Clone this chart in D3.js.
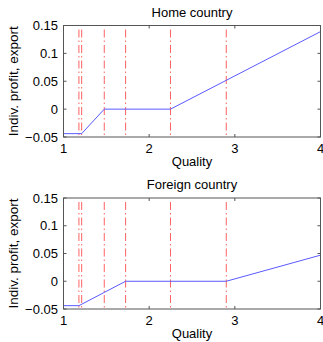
<!DOCTYPE html>
<html>
<head>
<meta charset="utf-8">
<script src="https://cdn.jsdelivr.net/npm/d3@7"></script>
<style>
  body { margin: 0; background: #fff; }
  text { font-family: "Liberation Sans", Arial, sans-serif; fill: #000; }
</style>
</head>
<body>
<div id="chart"></div>
<script>
// thresholds (red dash-dot lines), same in both panels
var cutoffs = [1.18, 1.212, 1.476, 1.725, 2.249, 2.9];

// home country profit curve
var homeX = [1, 1.212, 1.476, 2.249, 4];
var homeY = [-0.044, -0.044, 0, 0, 0.139];

// foreign country profit curve
var foreignX = [1, 1.18, 1.725, 2.9, 4];
var foreignY = [-0.044, -0.044, 0, 0, 0.047];

var xTicks = [1, 2, 3, 4];
var yTicks = [-0.05, 0, 0.05, 0.1, 0.15];
var titles = ["Home country", "Foreign country"];

var width = 323, height = 342;
var svg = d3.select("#chart").append("svg").attr("width", width).attr("height", height);

var fmt = function(d) {
  var s = d === 0 ? "0" : String(d);
  return s.replace("-", "\u2212");
};

function panel(top, bottom, title, xs, ys) {
  var x = d3.scaleLinear().domain([1, 4]).range([63.5, 320.5]);
  var y = d3.scaleLinear().domain([-0.05, 0.15]).range([bottom, top]);
  var g = svg.append("g");

  // red vertical lines
  g.selectAll("line.cut").data(cutoffs).enter().append("line")
    .attr("class", "cut")
    .attr("x1", function(d) { return x(d); })
    .attr("x2", function(d) { return x(d); })
    .attr("y1", y(0.15) + 4)
    .attr("y2", y(-0.05))
    .attr("stroke", "#ff6262")
    .attr("stroke-width", 1)
    .attr("stroke-dasharray", "8,3,1.5,3");

  // profit line
  var line = d3.line()
    .x(function(d) { return x(d[0]); })
    .y(function(d) { return y(d[1]); });
  g.append("path")
    .datum(d3.zip(xs, ys))
    .attr("d", line)
    .attr("fill", "none")
    .attr("stroke", "#5a5aff")
    .attr("stroke-width", 1);

  // axes box
  g.append("rect")
    .attr("x", x(1)).attr("y", y(0.15))
    .attr("width", x(4) - x(1)).attr("height", y(-0.05) - y(0.15))
    .attr("fill", "none").attr("stroke", "#555").attr("stroke-width", 1);

  // ticks inside
  var tl = 3;
  xTicks.forEach(function(t) {
    g.append("line").attr("x1", x(t)).attr("x2", x(t)).attr("y1", y(-0.05)).attr("y2", y(-0.05) - tl).attr("stroke", "#555");
    g.append("line").attr("x1", x(t)).attr("x2", x(t)).attr("y1", y(0.15)).attr("y2", y(0.15) + tl).attr("stroke", "#555");
    g.append("text").attr("x", x(t)).attr("y", y(-0.05) + 16)
      .attr("text-anchor", "middle").attr("font-size", "13px").text(t);
  });
  yTicks.forEach(function(t) {
    g.append("line").attr("x1", x(1)).attr("x2", x(1) + tl).attr("y1", y(t)).attr("y2", y(t)).attr("stroke", "#555");
    g.append("line").attr("x1", x(4)).attr("x2", x(4) - tl).attr("y1", y(t)).attr("y2", y(t)).attr("stroke", "#555");
    g.append("text").attr("x", 58).attr("y", y(t)).attr("dy", "0.35em")
      .attr("text-anchor", "end").attr("font-size", "13px").text(fmt(t));
  });

  // labels
  g.append("text").attr("x", (x(1) + x(4)) / 2).attr("y", top - 9)
    .attr("text-anchor", "middle").attr("font-size", "13px").text(title);
  g.append("text").attr("x", (x(1) + x(4)) / 2).attr("y", bottom + 29)
    .attr("text-anchor", "middle").attr("font-size", "13px").text("Quality");
  g.append("text")
    .attr("transform", "translate(18," + (top + bottom) / 2 + ") rotate(-90)")
    .attr("text-anchor", "middle").attr("font-size", "13.5px").text("Indiv. profit, export");
}

panel(25.5, 137, titles[0], homeX, homeY);
panel(198, 309, titles[1], foreignX, foreignY);
</script>
</body>
</html>
